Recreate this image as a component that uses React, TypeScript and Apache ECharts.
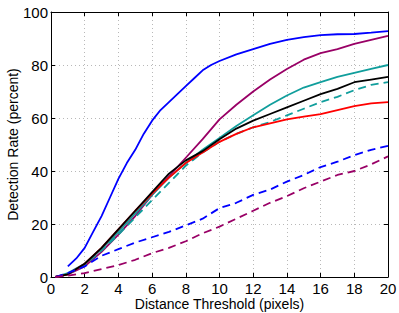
import React, { useEffect, useRef } from "react";
import * as echarts from "echarts";

const xs = [1, 2, 3, 4, 5, 6, 7, 8, 9, 10, 11, 12, 13, 14, 15, 16, 17, 18, 19, 20];

const blueSolidX = [1, 1.5, 2, 2.5, 3, 3.5, 4, 4.5, 5, 5.5, 6, 6.5, 7, 7.5, 8, 8.5, 9, 9.5, 10, 11, 12, 13, 14, 15, 16, 17, 18, 19, 20];
const blueSolid = [4, 7, 11, 17, 23, 30, 37, 43, 48, 54, 59, 63, 66, 69, 72, 75, 78, 80, 81.5, 84, 86, 88, 89.5, 90.5, 91.3, 91.6, 91.7, 92.2, 92.8];
const purpleSolid = [1, 4, 9.5, 16, 23, 31, 38, 45, 52, 59.5, 65, 70, 74.5, 78.5, 82, 84.5, 86, 88, 89.5, 91];
const tealSolid = [1.5, 5, 10.5, 17, 24, 31, 37.5, 43, 48, 52.5, 57, 61, 65, 68.5, 71.5, 73.5, 75.5, 77, 78.5, 80];
const blackSolid = [1, 5, 11, 18, 25, 32, 39, 44, 47.5, 52, 56, 59, 61.5, 64, 66.5, 69, 71, 73.5, 74.5, 75.5];
const tealDashed = [1, 4.5, 10, 16, 22.5, 29, 35.5, 42, 47, 51, 54, 56.5, 58.5, 61, 63.5, 66, 68, 70.5, 72.5, 73.5];
const redSolid = [1, 5, 11, 18, 25, 31.5, 37.5, 43, 47, 51, 54, 56.5, 58, 59.5, 60.5, 61.5, 63, 64.5, 65.5, 66];
const blueDashed = [1.5, 4, 8, 10.5, 13, 15, 17, 19.5, 22, 26, 28, 31, 33, 36, 38.5, 41.5, 43.5, 46, 48, 49.5];
const purpleDashed = [0.5, 1.5, 3, 4.5, 6.5, 9, 11, 13.5, 16.5, 19, 22, 25, 28, 30.5, 33.5, 36, 38.5, 40, 42.5, 45.5];

const startX = 0.25;

function pairs(x: number[], y: number[], withStart: boolean) {
  const out: number[][] = withStart ? [[startX, 0]] : [];
  x.forEach((v, i) => out.push([v, y[i]]));
  return out;
}

export default function App() {
  const ref = useRef<HTMLDivElement>(null);
  useEffect(() => {
    if (!ref.current) return;
    const chart = echarts.init(ref.current, null, { renderer: "svg" });
    const font = "Liberation Sans, Arial, Helvetica, sans-serif";
    const mk = (name: string, data: number[][], color: string, dashed: boolean) => ({
      name,
      type: "line",
      data,
      showSymbol: false,
      symbol: "none",
      xAxisIndex: 0,
      yAxisIndex: 0,
      lineStyle: { color, width: 1.8, type: dashed ? [8, 5] : "solid" },
      z: 3,
    });
    const gridColor = "#b8b8b8";
    chart.setOption({
      animation: false,
      grid: { left: 51, top: 12, right: 11, bottom: 36, containLabel: false, outerBoundsMode: "none" },
      xAxis: [
        {
          type: "value",
          min: 0,
          max: 20,
          interval: 2,
          name: "Distance Threshold (pixels)",
          nameLocation: "middle",
          nameGap: 20,
          nameMoveOverlap: false,
          nameTextStyle: { fontFamily: font, fontSize: 14, color: "#000" },
          axisLine: { show: true, onZero: false, lineStyle: { color: "#000", width: 1 } },
          axisTick: { show: true, inside: true, length: 4, lineStyle: { color: "#000" } },
          axisLabel: { fontFamily: font, fontSize: 15, color: "#000", margin: 4 },
          splitLine: { show: true, lineStyle: { color: gridColor, type: [1, 3], width: 1 } },
        },
        {
          type: "value",
          position: "top",
          min: 0,
          max: 20,
          interval: 2,
          axisLine: { show: true, onZero: false, lineStyle: { color: "#000", width: 1 } },
          axisTick: { show: true, inside: true, length: 4, lineStyle: { color: "#000" } },
          axisLabel: { show: false },
          splitLine: { show: false },
        },
      ],
      yAxis: [
        {
          type: "value",
          min: 0,
          max: 100,
          interval: 20,
          name: "Detection Rate (percent)",
          nameLocation: "middle",
          nameGap: 31,
          nameMoveOverlap: false,
          nameTextStyle: { fontFamily: font, fontSize: 14, color: "#000" },
          axisLine: { show: true, onZero: false, lineStyle: { color: "#000", width: 1 } },
          axisTick: { show: true, inside: true, length: 4, lineStyle: { color: "#000" } },
          axisLabel: { fontFamily: font, fontSize: 15, color: "#000", margin: 3 },
          splitLine: { show: true, lineStyle: { color: gridColor, type: [1, 3], width: 1 } },
        },
        {
          type: "value",
          position: "right",
          min: 0,
          max: 100,
          interval: 20,
          axisLine: { show: true, onZero: false, lineStyle: { color: "#000", width: 1 } },
          axisTick: { show: true, inside: true, length: 4, lineStyle: { color: "#000" } },
          axisLabel: { show: false },
          splitLine: { show: false },
        },
      ],
      series: [
        mk("blue", pairs(blueSolidX, blueSolid, false), "#0000ff", false),
        mk("purple", pairs(xs, purpleSolid, true), "#990066", false),
        mk("teal", pairs(xs, tealSolid, true), "#109e9c", false),
        mk("tealDashed", pairs(xs, tealDashed, true), "#109e9c", true),
        mk("red", pairs(xs, redSolid, true), "#ff0000", false),
        mk("black", pairs(xs, blackSolid, true), "#000000", false),
        mk("blueDashed", pairs(xs, blueDashed, true), "#0000ff", true),
        mk("purpleDashed", pairs(xs, purpleDashed, true), "#990066", true),
      ],
    });
    return () => chart.dispose();
  }, []);
  return <div ref={ref} style={{ width: 399, height: 313, position: "absolute", left: 0, top: 0, background: "#fff" }} />;
}
